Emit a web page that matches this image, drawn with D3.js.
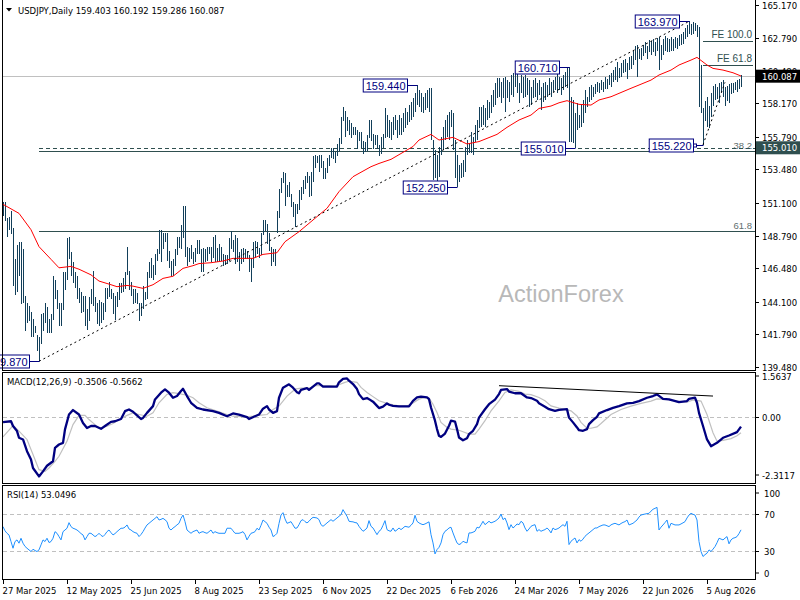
<!DOCTYPE html>
<html><head><meta charset="utf-8">
<script src="https://cdn.jsdelivr.net/npm/d3@7"></script>
<style>body{margin:0;background:#fff}svg{display:block}</style>
</head><body><svg id="c" width="800" height="600"></svg>
<script>
// ---------- DATA ----------
const highs=[151.2,151.2,150.0,150.1,150.5,149.3,147.1,148.1,148.3,148.3,
147.8,144.5,144.0,143.8,143.4,142.9,142.4,141.7,141.6,143.2,
143.3,144.0,143.7,142.9,143.2,145.9,145.6,144.9,144.0,144.0,
146.2,146.2,148.6,148.65,147.6,146.9,146.2,145.9,145.1,144.8,
144.5,144.5,143.6,144.4,145.0,146.3,144.4,144.0,144.2,144.1,
144.0,145.1,145.1,145.5,145.0,144.7,144.5,144.8,145.4,145.4,
145.8,146.2,148.0,146.3,145.5,145.0,145.0,144.7,144.0,144.0,
145.2,144.8,146.2,146.9,147.2,146.7,147.5,147.8,149.2,149.2,
149.0,149.0,149.0,147.7,147.0,147.1,147.8,148.7,148.7,149.5,
150.9,150.9,148.0,147.9,148.1,147.6,147.9,148.5,148.5,147.8,
147.9,147.8,148.0,148.0,148.0,148.7,148.8,147.9,148.2,148.0,
147.5,147.4,147.4,148.6,149.1,148.5,148.8,148.6,147.6,147.8,
147.9,147.8,147.7,147.4,147.2,148.3,148.4,148.3,147.9,149.0,
149.9,149.9,149.6,149.0,148.0,147.8,147.8,150.5,152.1,152.9,
153.3,153.2,152.4,152.6,151.7,151.2,151.0,151.0,152.0,152.2,
152.7,153.0,153.3,153.0,153.3,154.4,154.5,154.4,154.5,154.5,
154.1,153.6,154.3,154.5,155.0,155.0,154.7,155.3,155.7,157.2,
157.9,157.6,157.2,157.0,156.8,156.5,156.5,156.3,156.1,156.1,
155.5,155.4,155.9,157.0,157.0,156.0,155.9,155.9,155.2,155.8,
156.0,157.8,157.33,156.98,156.86,157.2,157.33,156.98,157.33,157.1,
157.45,157.8,157.57,158.04,158.28,158.51,158.87,159.44,159.1,158.87,
158.63,158.87,159.1,159.22,159.22,155.56,154.85,154.5,155.09,155.8,
156.5,156.98,157.33,157.57,157.69,157.45,155.56,154.5,153.8,153.9,
154.14,155.09,155.56,155.32,156.15,155.8,156.62,156.98,157.92,157.92,
158.04,157.8,158.4,158.28,158.75,159.1,159.57,159.93,159.93,159.7,
159.93,160.05,159.81,159.7,160.17,160.29,160.5,160.4,159.57,160.17,
160.05,160.17,159.93,159.81,159.34,159.81,159.93,159.57,159.81,159.34,
159.57,159.7,159.46,159.93,159.7,159.81,160.05,160.29,160.05,159.93,
160.17,160.4,160.64,160.71,158.63,158.4,157.45,158.16,157.33,158.04,
158.4,159.1,158.63,159.34,159.46,159.34,159.5,159.7,159.6,159.8,
159.7,160.05,159.9,160.2,160.3,160.5,160.75,161.1,160.7,161.0,
161.2,161.3,161.0,161.45,161.5,161.9,162.2,162.3,162.0,162.1,
162.3,162.5,162.2,162.65,162.6,162.75,162.5,162.8,162.9,162.3,
162.7,162.95,162.8,162.7,162.85,162.7,162.9,162.8,163.0,163.1,
163.25,163.5,163.7,163.97,163.8,163.9,163.85,163.7,163.6,160.9,
157.8,158.3,158.6,158.0,158.9,159.4,159.5,159.3,159.6,159.7,
159.8,159.3,159.4,159.5,159.6,159.6,159.7,159.8,159.9,160.192];
const lows=[150.2,149.8,148.7,149.2,148.9,145.2,144.55,144.8,145.9,143.9,
144.0,142.05,142.6,142.7,141.6,141.6,141.9,140.6,139.87,141.1,
142.0,142.6,141.9,141.9,141.9,142.8,144.3,143.6,142.4,142.4,
143.5,144.9,145.6,147.1,145.9,145.4,145.1,144.3,144.0,143.3,
143.4,142.4,142.1,142.7,143.9,143.8,143.4,142.5,142.4,142.6,
142.8,143.4,144.3,144.4,144.3,143.2,142.8,143.7,144.2,144.7,
144.8,145.0,146.0,144.9,144.5,143.9,144.0,143.9,142.7,143.1,
143.6,144.2,144.3,145.8,145.8,145.6,146.0,147.0,147.5,146.9,
147.8,148.3,147.0,146.5,145.9,145.9,146.6,147.4,147.9,147.8,
148.6,147.3,146.6,146.9,147.1,146.8,146.9,147.5,147.5,146.2,
146.2,146.9,147.0,147.5,146.9,147.2,146.9,146.9,146.9,147.0,
146.6,146.7,146.8,147.0,147.8,147.6,146.8,146.9,146.3,146.8,
146.9,147.1,147.1,146.2,145.5,146.5,147.2,147.5,147.2,147.4,
148.8,149.1,148.2,147.7,146.6,146.9,146.6,149.0,150.0,151.8,
152.5,150.9,151.5,151.5,150.8,150.1,149.4,150.3,150.6,151.3,
151.7,152.1,152.5,151.5,151.6,152.6,153.6,153.9,153.3,153.6,
152.8,152.8,153.2,153.7,154.3,154.2,153.9,154.4,154.8,155.3,
156.9,155.8,156.2,155.9,155.7,155.9,155.9,154.9,155.5,155.0,
154.6,154.7,154.8,155.7,155.5,154.9,155.2,154.9,154.4,154.6,
155.0,155.7,155.8,155.68,155.56,155.9,156.27,155.68,155.9,155.9,
156.15,156.39,156.62,156.86,156.98,157.2,157.57,158.04,157.92,157.57,
157.45,157.69,157.8,157.57,155.56,152.72,152.84,152.6,152.96,154.5,
154.85,155.56,155.8,155.56,156.5,154.85,152.84,152.25,152.6,152.84,
152.96,153.31,154.5,154.61,154.61,154.5,155.44,155.56,156.39,156.5,
156.62,156.5,156.98,157.1,157.45,157.92,158.04,158.51,158.63,158.16,
158.51,157.57,158.51,158.28,158.75,158.63,159.34,158.87,158.16,158.87,
158.51,158.63,158.75,157.92,158.04,158.51,158.63,158.4,158.75,157.69,
158.28,158.4,158.63,158.75,158.63,158.99,159.1,158.87,159.1,158.75,
159.1,159.34,159.22,155.4,155.44,155.32,155.01,156.27,156.39,156.5,
156.74,157.45,157.92,158.28,158.4,158.63,158.8,159.0,158.9,159.1,
159.0,159.2,159.2,159.45,159.35,159.7,159.8,159.7,159.95,160.05,
160.3,160.4,159.9,160.5,160.6,160.9,161.2,160.0,161.3,161.2,
161.5,161.7,161.3,161.8,161.6,161.8,161.5,161.9,160.5,161.2,
161.6,161.9,161.8,161.8,161.9,161.9,162.1,162.0,162.2,162.3,
162.4,162.75,162.9,163.1,163.0,163.1,163.3,162.9,157.9,157.5,
155.22,156.9,156.5,156.4,157.2,158.0,158.4,158.5,158.2,159.0,
158.6,158.0,158.3,158.2,158.8,158.9,159.1,159.0,159.2,159.286];

const maBars=[0,8,14,18,24,28,34,38,44,48,54,57,62,65,70,75,80,85,90,95,98,104,110,115,125,130,137,141,148,155,162,168,175,184,188,194,205,208,214,218,225,232,238,247,252,258,264,268,274,278,282,288,294,298,304,308,314,318,324,328,334,338,344,347,352,355,360,365,369];
const maValues=[151.0,150.36,149.2,148.0,147.1,146.5,146.6,146.4,146.0,145.56,145.3,145.16,145.25,145.2,145.04,145.3,145.75,145.9,146.46,146.65,146.8,146.86,146.98,147.17,147.17,147.45,147.57,148.35,149.06,149.89,150.72,151.9,152.96,153.67,153.9,154.19,155.1,155.56,155.96,155.56,155.75,155.28,155.45,155.96,156.46,156.98,157.33,157.8,157.97,158.2,158.35,158.09,158.04,158.4,158.63,158.87,159.23,159.46,159.81,160.17,160.52,160.88,161.23,161.42,160.88,160.64,160.52,160.33,160.1];

const macdBars=[0,4,5,7,8,10,12,14,15,18,20,22,25,26,28,30,31,33,35,38,40,42,44,46,49,51,54,56,59,61,63,65,67,69,70,72,75,76,79,81,83,85,87,89,90,92,94,97,100,105,108,112,115,118,122,123,126,128,130,132,133,135,137,138,140,143,145,147,148,149,152,153,155,157,158,160,165,167,168,170,172,173,175,177,178,180,182,183,185,187,188,190,192,193,195,198,203,205,207,209,212,213,214,216,217,218,219,221,223,224,226,227,228,230,232,233,235,237,238,241,243,246,248,249,252,253,256,259,262,264,267,268,271,273,276,278,282,283,285,287,288,290,292,293,295,297,298,302,305,308,312,315,318,322,325,327,330,333,338,342,343,346,347,348,350,352,354,357,360,363,367,369];
const macdValues=[-0.19,-0.16,-0.33,-0.51,-0.75,-0.81,-1.23,-1.53,-1.83,-2.13,-1.95,-1.75,-1.59,-1.11,-0.99,-0.93,-0.45,0.08,0.24,0.08,-0.22,-0.40,-0.33,-0.33,-0.43,-0.33,-0.18,-0.16,-0.08,0.20,0.26,0.18,0.05,-0.08,-0.04,0.14,0.38,0.62,0.86,0.98,0.86,0.68,0.74,0.92,1.00,0.74,0.50,0.32,0.26,0.20,0.14,0.02,0.12,0.08,-0.01,-0.08,0.02,0.08,0.29,0.38,0.26,0.14,0.20,0.68,1.04,1.16,1.04,0.88,0.84,0.96,1.02,0.96,1.08,1.19,1.19,1.08,1.08,1.08,1.23,1.35,1.37,1.29,1.17,0.99,0.81,0.63,0.67,0.63,0.54,0.39,0.31,0.36,0.48,0.43,0.39,0.37,0.37,0.57,0.69,0.72,0.69,0.63,0.33,-0.14,-0.44,-0.68,-0.72,-0.60,-0.32,-0.14,-0.17,-0.44,-0.74,-0.84,-0.77,-0.62,-0.50,-0.26,-0.03,0.27,0.45,0.61,0.81,0.96,0.99,0.90,0.84,0.84,0.69,0.67,0.57,0.48,0.36,0.27,0.21,0.25,0.27,-0.03,-0.20,-0.38,-0.48,-0.50,-0.44,-0.26,-0.12,0,0.12,0.24,0.32,0.38,0.48,0.50,0.56,0.68,0.74,0.80,0.64,0.62,0.52,0.56,0.64,0.68,0.50,0.14,-0.33,-0.81,-1.05,-0.93,-0.75,-0.67,-0.55,-0.35];

const signalBars=[0,4,5,8,12,15,18,21,23,26,28,32,35,38,41,43,46,48,52,55,58,62,65,68,72,75,78,82,85,88,92,95,98,102,107,112,115,122,125,128,132,135,138,142,145,146,149,153,156,159,163,166,168,171,173,177,179,182,185,188,192,195,198,202,204,208,211,213,215,217,219,222,224,228,231,233,236,238,241,244,248,251,254,258,261,264,268,271,274,278,281,284,287,289,292,294,297,299,304,309,314,319,324,327,332,337,342,345,349,352,355,357,360,364,367,369];
const signalValues=[-0.72,-0.40,-0.31,-0.51,-0.81,-1.35,-1.89,-1.95,-1.83,-1.59,-1.41,-0.87,-0.28,0.05,0.05,-0.10,-0.28,-0.40,-0.34,-0.24,-0.10,0.05,0.14,0.08,0.02,0.14,0.50,0.80,0.86,0.83,0.77,0.68,0.50,0.32,0.20,0.08,0.02,0,0.02,0.05,0.08,0.26,0.38,0.74,0.92,0.99,1.02,1.02,1.11,1.11,1.11,1.09,1.15,1.23,1.27,1.23,1.05,0.87,0.72,0.57,0.48,0.43,0.39,0.39,0.45,0.63,0.69,0.67,0.45,0.15,-0.20,-0.38,-0.44,-0.48,-0.56,-0.62,-0.62,-0.44,-0.14,0.21,0.57,0.87,0.96,0.91,0.81,0.79,0.69,0.57,0.39,0.31,0.27,0.21,0.03,-0.20,-0.41,-0.41,-0.36,-0.24,0.08,0.26,0.38,0.48,0.56,0.64,0.62,0.56,0.52,0.60,0.56,0.08,-0.57,-0.87,-0.84,-0.78,-0.68,-0.57];

const rsiValues=[56.6,52,49.3,47.5,40.3,33.0,40.3,42.1,38.5,43.9,
38.5,35,33.0,31.2,29.4,31.9,30.5,29.4,31.2,36.7,
42.1,40.3,43.9,39.2,40.3,43.9,51.1,49.3,45.7,42.1,
51.1,52.9,54.8,60.9,56.6,54.8,54,52.9,51.1,49,
47.5,42.1,45.7,49.3,49.3,47.5,45.7,47,49.3,47,
45.7,48,51.1,52.9,50,47.5,49,51.1,53,54.8,
54.8,56,58.4,54,52.9,51.1,50,49.3,45.7,48,
51.1,55,58.4,60.2,62,63.8,65.6,67.4,63.8,64.5,
65.6,64,62.0,54.8,52.9,55,56.6,58.5,60.2,65.6,
69.2,62.0,52.9,51,49.3,51.1,52,52.9,49.3,50.5,
51.1,50,49.3,51,52.9,49.3,51.1,50,49.3,49.3,
49.3,49.3,54.8,54.8,54.8,52,49.3,49.3,49.3,50,
51.1,48,42.1,46,49.3,50,51.1,54.8,52.9,58,
63.8,62,60.2,56,52.9,45.7,47,49.3,60,69.2,
71.8,65,60.2,61,62.0,58.4,54.8,55.1,58.7,63.1,
64.2,62,60.6,62.4,65,66.7,66.4,66.0,64.2,58.7,
56.9,58.7,60.6,62.4,64.2,62.4,64.2,66,67.8,69.6,
75.1,71.4,67.8,62.4,62,61.8,61,60.6,56.9,54,
51.5,53,55.1,63.1,56.9,55.1,51.5,47.8,51.5,53.3,
58,63.1,53.3,52,51.5,55.1,51.5,53,55.1,53.3,
55,56.9,56.4,55.9,58,60.6,68.9,62.4,60.6,59.5,
58.7,59.5,60.6,61.8,47.8,38.8,26.8,31.5,34.0,38.8,
47.8,51.5,53,55.1,55.9,49.7,44,38.8,37.0,38,
40.6,39.5,38.8,49.7,49.7,50.5,51.5,55.9,55.1,58.5,
62.4,58.7,60.5,62.4,60.6,61.5,62.4,64,66.0,70.3,
64.2,66.0,60.6,53.3,58.7,55.1,57,59.5,58.7,62.4,
60.6,55.1,51.5,54,56.9,58.0,58.7,51.5,53.3,51.5,
52.5,53.3,55.1,53,49.7,55.1,53.3,54,55.1,57,
58.7,56.9,62.4,37.0,40.6,42.5,44.2,38.8,42.4,40.6,
43,46.0,48,49.7,51.5,53.3,55.1,55.1,56.6,57.5,
58.4,58.4,57.5,56.6,58.5,59.5,60.2,59.3,58.4,60,
61.2,62.0,63.8,58.4,59.3,60.2,62,63.8,67,69.2,
69.8,70.3,70.7,71.1,73.5,75.5,76.5,77.6,52.9,56,
58.4,61,63.8,54.8,60.2,59.3,58.4,58.4,58.4,59.5,
60.7,62.0,66,69.2,71.1,70,69.2,63.8,40.3,29.4,
24.0,26,27.6,31.2,29.4,32,34.8,39,43.9,43,
42.1,44,45.7,37.8,42.1,43.9,44.5,45.7,49,53.05];

const priceTicks=[165.170,162.790,160.480,158.170,155.790,153.480,151.100,148.790,146.480,144.100,141.790,139.480];
const dateTickBars=[0,32,64,96,128,160,192,224,256,288,320,352];
const dateTickLabels=["27 Mar 2025","12 May 2025","25 Jun 2025","8 Aug 2025","23 Sep 2025","6 Nov 2025","22 Dec 2025","6 Feb 2026","24 Mar 2026","7 May 2026","22 Jun 2026","5 Aug 2026"];

const pivotBars=[18,207,227,283,286,343,350];
const pivotPrices=[139.87,159.44,152.25,160.71,155.01,163.97,155.22];

const trendBars=[18,343], trendPrices=[139.87,163.97];
const trend2Bars=[350,361], trend2Prices=[155.22,159.65];
const fibLevels=[149.08,154.76], fibLabels=["61.8","38.2"], fibStartBar=18;
const feLevels=[162.56,160.88], feLabels=["FE 100.0","FE 61.8"], feStartBar=350;
const supportLevel=155.01, lastPrice=160.087;
const macdTrendBars=[248,355], macdTrendValues=[1.11,0.74];
const macdAxis=[1.5637,0,-2.3117];
const rsiLevels=[70,30], rsiAxis=[100,70,30,0];
const header="USDJPY,Daily  159.403 160.192 159.286 160.087";
const macdHeader="MACD(12,26,9) -0.3506 -0.5662";
const rsiHeader="RSI(14) 53.0496";

// ---------- DRAW ----------
const svg=d3.select('#c');
const N=highs.length;
const x=d3.scaleLinear().domain([0,N-1]).range([3,3+2*(N-1)]);
const yP=d3.scaleLinear().domain([139.48,165.17]).range([366.8,4.5]);
const yM=d3.scaleLinear().domain([-2.3117,1.5637]).range([481.5,373]);
const yR=d3.scaleLinear().domain([0,100]).range([578.5,486.8]);
const R=755;
const AX="DejaVu Sans", OBJ="Liberation Sans, Arial, sans-serif";

const defs=svg.append('defs');
[['cm',3,0,752,370],['cd',3,373,752,110],['cr',3,486,752,93]].forEach(([id,a,b,w,h])=>{
  defs.append('clipPath').attr('id',id).append('rect').attr('x',a).attr('y',b).attr('width',w).attr('height',h);
});

// watermark
svg.append('text').attr('x',561).attr('y',302).attr('text-anchor','middle')
  .attr('font-family',OBJ).attr('font-size',23.5).attr('fill','#b8b8b8').text('ActionForex');

const gm=svg.append('g').attr('clip-path','url(#cm)');
// current price line
gm.append('line').attr('x1',3).attr('x2',R).attr('y1',Math.round(yP(lastPrice))+0.5).attr('y2',Math.round(yP(lastPrice))+0.5).attr('stroke','#c0c0c0');
// fib lines
fibLevels.forEach((lv,i)=>{
  const yy=Math.round(yP(lv))+0.5;
  gm.append('line').attr('x1',x(fibStartBar)).attr('x2',R).attr('y1',yy).attr('y2',yy).attr('stroke','#2f4f4f');
  gm.append('text').attr('x',752).attr('y',yy-3).attr('text-anchor','end').attr('font-family',OBJ).attr('font-size',9.5).attr('fill','#5f6f6f').text(fibLabels[i]);
});
// support dashed
{const yy=Math.round(yP(supportLevel))+0.5;
 gm.append('line').attr('x1',x(fibStartBar)).attr('x2',R).attr('y1',yy).attr('y2',yy).attr('stroke','#2f4f4f').attr('stroke-dasharray','4,3');}
// FE lines
feLevels.forEach((lv,i)=>{
  const yy=Math.round(yP(lv))+0.5;
  gm.append('line').attr('x1',x(feStartBar)).attr('x2',753).attr('y1',yy).attr('y2',yy).attr('stroke','#2f4f4f');
  gm.append('text').attr('x',752).attr('y',yy-4).attr('text-anchor','end').attr('font-family',OBJ).attr('font-size',10).attr('fill','#2f4f4f').text(feLabels[i]);
});
// bars
gm.append('g').selectAll('line').data(d3.range(N)).join('line')
  .attr('x1',i=>x(i)+0.5).attr('x2',i=>x(i)+0.5)
  .attr('y1',i=>yP(highs[i])).attr('y2',i=>yP(lows[i]))
  .attr('stroke','#123f5a').attr('stroke-width',1).attr('shape-rendering','crispEdges');
// MA
gm.append('path').datum(maBars.map((b,i)=>[b,maValues[i]]))
  .attr('d',d3.line().x(d=>x(d[0])).y(d=>yP(d[1]))).attr('fill','none').attr('stroke','#ff0000').attr('stroke-width',1);
// trendlines
[[trendBars,trendPrices],[trend2Bars,trend2Prices]].forEach(([b,p])=>{
  gm.append('line').attr('x1',x(b[0])).attr('y1',yP(p[0])).attr('x2',x(b[1])).attr('y2',yP(p[1]))
    .attr('stroke','#000').attr('stroke-dasharray','2,3');
});
// pivot labels
pivotBars.forEach((b,i)=>{
  const px=x(b)+0.5, py=Math.round(yP(pivotPrices[i]))+0.5;
  const g=svg.append('g');
  g.append('line').attr('x1',px-10).attr('x2',px).attr('y1',py).attr('y2',py).attr('stroke','#000080');
  const t=g.append('text').attr('x',px-12).attr('y',py+4).attr('text-anchor','end')
    .attr('font-family',OBJ).attr('font-size',11).attr('fill','#000080').text(pivotPrices[i].toFixed(3));
  const w=t.node().getComputedTextLength();
  g.insert('rect','text').attr('x',px-12-w-2.5).attr('y',py-6.5).attr('width',w+4.5).attr('height',13)
    .attr('fill','#fff').attr('stroke','#000080');
  if(b===350){g.append('rect').attr('x',px-10).attr('y',py-1.5).attr('width',3).attr('height',3).attr('fill','#fff').attr('stroke','#000080');}
});

// MACD panel
const gd=svg.append('g').attr('clip-path','url(#cd)');
gd.append('line').attr('x1',3).attr('x2',R).attr('y1',Math.round(yM(0))+0.5).attr('y2',Math.round(yM(0))+0.5).attr('stroke','#c0c0c0').attr('stroke-dasharray','4,3');
gd.append('path').datum(signalBars.map((b,i)=>[b,signalValues[i]]))
  .attr('d',d3.line().x(d=>x(d[0])).y(d=>yM(d[1]))).attr('fill','none').attr('stroke','#c0c0c0').attr('stroke-width',1.2);
gd.append('path').datum(macdBars.map((b,i)=>[b,macdValues[i]]))
  .attr('d',d3.line().x(d=>x(d[0])).y(d=>yM(d[1]))).attr('fill','none').attr('stroke','#000080').attr('stroke-width',2.3).attr('stroke-linejoin','round');
gd.append('line').attr('x1',x(macdTrendBars[0])).attr('y1',yM(macdTrendValues[0])).attr('x2',x(macdTrendBars[1])).attr('y2',yM(macdTrendValues[1])).attr('stroke','#000').attr('stroke-width',1);

// RSI panel
const gr=svg.append('g').attr('clip-path','url(#cr)');
rsiLevels.forEach(l=>gr.append('line').attr('x1',3).attr('x2',R).attr('y1',Math.round(yR(l))+0.5).attr('y2',Math.round(yR(l))+0.5).attr('stroke','#c0c0c0').attr('stroke-dasharray','4,3'));
gr.append('path').datum(rsiValues.map((v,i)=>[i,v]))
  .attr('d',d3.line().x(d=>x(d[0])).y(d=>yR(d[1]))).attr('fill','none').attr('stroke','#1e90ff').attr('stroke-width',1);

// frames
const fr=svg.append('g').attr('fill','none').attr('stroke','#000').attr('shape-rendering','crispEdges');
fr.append('rect').attr('x',2.5).attr('y',-1).attr('width',R-2.5).attr('height',371.5);
fr.append('rect').attr('x',2.5).attr('y',372.5).attr('width',R-2.5).attr('height',111);
fr.append('rect').attr('x',2.5).attr('y',485.5).attr('width',R-2.5).attr('height',94);

// price axis
const ax=svg.append('g').attr('font-family',AX).attr('font-size',8.5).attr('fill','#000');
priceTicks.forEach(p=>{
  const yy=Math.round(yP(p))+0.5;
  ax.append('line').attr('x1',R).attr('x2',R+4).attr('y1',yy).attr('y2',yy).attr('stroke','#000');
  ax.append('text').attr('x',762).attr('y',yy+3.5).text(p.toFixed(3));
});
// price boxes
function priceBox(p,bg){
  const yy=yP(p);
  svg.append('rect').attr('x',R+1).attr('y',yy-6.5).attr('width',50).attr('height',13).attr('fill',bg);
  svg.append('text').attr('x',762).attr('y',yy+3.5).attr('font-family',AX).attr('font-size',8.5).attr('fill','#fff').text(p.toFixed(3));
}
priceBox(lastPrice,'#000');
priceBox(supportLevel,'#2f4f4f');

// MACD axis
macdAxis.forEach((v,i)=>{
  const yy=Math.round(yM(v))+0.5;
  const ty= i===0? yy+6 : (i===2? yy-4 : yy+3.5);
  ax.append('line').attr('x1',R).attr('x2',R+4).attr('y1',i===1?yy:ty-3.5).attr('y2',i===1?yy:ty-3.5).attr('stroke','#000');
  ax.append('text').attr('x',762).attr('y',ty).text(i===1?'0.00':v.toFixed(4));
});
// RSI axis
rsiAxis.forEach(v=>{
  const yy=Math.round(yR(v))+0.5;
  const ty= v===100? yy+9 : (v===0? yy-3 : yy+3.5);
  ax.append('line').attr('x1',R).attr('x2',R+4).attr('y1',ty-3.5).attr('y2',ty-3.5).attr('stroke','#000');
  ax.append('text').attr('x',764).attr('y',ty).text(v);
});
// date axis
dateTickBars.forEach((b,i)=>{
  const xx=Math.round(x(b))+0.5;
  ax.append('line').attr('x1',xx).attr('x2',xx).attr('y1',579.5).attr('y2',584).attr('stroke','#000');
  ax.append('text').attr('x',xx-1).attr('y',594).text(dateTickLabels[i]);
});

// headers
svg.append('path').attr('d','M6,8 L12,8 L9,11.5 Z').attr('fill','#000');
const ht=svg.append('g').attr('font-family',AX).attr('font-size',8.5).attr('fill','#000');
ht.append('text').attr('x',18).attr('y',14).text(header);
ht.append('text').attr('x',7).attr('y',385).text(macdHeader);
ht.append('text').attr('x',7).attr('y',498).text(rsiHeader);
</script></body></html>
